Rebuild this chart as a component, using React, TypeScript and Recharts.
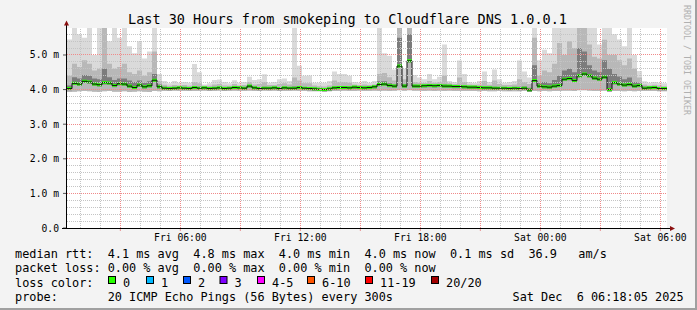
import React from "react";
import { ComposedChart, Area, Line, XAxis, YAxis, CartesianGrid, ReferenceLine } from "recharts";

const W = 697;
const H = 310;
const MONO = "'DejaVu Sans Mono', monospace";

// 15 minute buckets, minutes since Fri 00:00
const startMin = 20;
const stepMin = 15;
const endMin = 1820;

const medianMs = [
  4.03, 4.18, 4.16, 4.24, 4.22, 4.16, 4.14, 4.2, 4.19, 4.12,
  4.17, 4.16, 4.1, 4.06, 4.13, 4.08, 4.11, 4.27, 4.08, 4.04,
  4.03, 4.04, 4.05, 4.04, 4.03, 4.06, 4.04, 4.05, 4.03, 4.04,
  4.05, 4.03, 4.04, 4.06, 4.05, 4.04, 4.1, 4.05, 4.03, 4.04,
  4.04, 4.05, 4.03, 4.05, 4.04, 4.04, 4.06, 4.04, 4.03, 4.02,
  4.01, 4.0, 4.02, 4.05, 4.06, 4.06, 4.05, 4.07, 4.06, 4.05,
  4.06, 4.08, 4.15, 4.16, 4.12, 4.1, 4.68, 4.1, 4.83, 4.1,
  4.1, 4.11, 4.12, 4.11, 4.12, 4.1, 4.1, 4.09, 4.09, 4.08,
  4.07, 4.07, 4.06, 4.05, 4.05, 4.04, 4.04, 4.04, 4.03, 4.04,
  4.03, 4.04, 3.99, 4.26, 4.1, 4.08, 4.07, 4.1, 4.12, 4.3,
  4.32, 4.26, 4.4, 4.45, 4.4, 4.33, 4.3, 4.36, 4.0, 4.2,
  4.16, 4.13, 4.15, 4.1, 4.12, 4.04, 4.05, 4.06, 4.03, 4.03,
];

const minMs = [
  3.93, 3.94, 3.95, 3.96, 3.95, 3.94, 3.93, 3.95, 3.96, 3.94,
  3.94, 3.95, 3.93, 3.94, 3.95, 3.94, 3.93, 3.96, 3.95, 3.96,
  3.96, 3.97, 3.96, 3.96, 3.97, 3.96, 3.96, 3.97, 3.96, 3.96,
  3.97, 3.96, 3.96, 3.97, 3.96, 3.96, 3.97, 3.96, 3.96, 3.97,
  3.96, 3.97, 3.96, 3.96, 3.96, 3.97, 3.96, 3.96, 3.95, 3.95,
  3.95, 3.94, 3.95, 3.96, 3.96, 3.97, 3.96, 3.96, 3.97, 3.96,
  3.96, 3.97, 3.96, 3.97, 3.96, 3.97, 3.98, 3.97, 3.98, 3.97,
  3.97, 3.96, 3.97, 3.96, 3.97, 3.96, 3.97, 3.96, 3.96, 3.96,
  3.96, 3.96, 3.95, 3.96, 3.95, 3.95, 3.96, 3.95, 3.95, 3.95,
  3.95, 3.96, 3.93, 3.96, 3.95, 3.96, 3.95, 3.96, 3.96, 3.97,
  3.97, 3.96, 3.98, 3.98, 3.97, 3.96, 3.96, 3.97, 3.93, 3.96,
  3.96, 3.95, 3.96, 3.95, 3.96, 3.96, 3.96, 3.96, 3.95, 3.95,
];

// top of the dark smoke
const p75Ms = [
  4.12, 4.36, 4.32, 4.42, 4.4, 4.32, 4.3, 4.6, 4.36, 4.28,
  4.32, 4.32, 4.26, 4.22, 4.26, 4.2, 4.24, 4.45, 4.15, 4.08,
  4.06, 4.07, 4.08, 4.07, 4.06, 4.1, 4.08, 4.07, 4.06, 4.07,
  4.08, 4.06, 4.07, 4.09, 4.08, 4.07, 4.13, 4.08, 4.06, 4.08,
  4.07, 4.08, 4.06, 4.08, 4.07, 4.09, 4.1, 4.07, 4.06, 4.05,
  4.04, 4.03, 4.05, 4.09, 4.09, 4.09, 4.08, 4.1, 4.09, 4.08,
  4.1, 4.12, 4.24, 4.24, 4.18, 4.15, 5.5, 4.16, 5.6, 4.14,
  4.13, 4.14, 4.15, 4.14, 4.15, 4.15, 4.13, 4.12, 4.13, 4.11,
  4.1, 4.1, 4.09, 4.09, 4.08, 4.08, 4.07, 4.07, 4.06, 4.07,
  4.08, 4.09, 4.05, 4.7, 4.2, 4.22, 4.18, 4.28, 4.4, 4.55,
  4.6, 4.5, 5.2, 5.1, 4.7, 4.55, 4.5, 4.85, 4.6, 4.45,
  4.38, 4.3, 4.35, 4.22, 4.2, 4.09, 4.09, 4.1, 4.07, 4.07,
];

// top of the medium smoke
const p90Ms = [
  4.4, 4.75, 4.65, 4.85, 4.75, 4.55, 4.6, 5.78, 4.75, 4.6,
  4.65, 4.75, 4.5, 4.45, 4.55, 4.4, 4.5, 5.1, 4.25, 4.14,
  4.11, 4.13, 4.12, 4.13, 4.11, 4.22, 4.18, 4.11, 4.11, 4.15,
  4.16, 4.12, 4.11, 4.16, 4.12, 4.13, 4.22, 4.15, 4.16, 4.22,
  4.13, 4.13, 4.16, 4.18, 4.15, 4.35, 4.26, 4.18, 4.18, 4.12,
  4.1, 4.09, 4.12, 4.26, 4.22, 4.22, 4.2, 4.15, 4.13, 4.15,
  4.13, 4.15, 4.45, 4.48, 4.36, 4.26, 5.78, 4.3, 5.78, 4.22,
  4.2, 4.19, 4.25, 4.2, 4.22, 4.4, 4.18, 4.16, 4.35, 4.22,
  4.15, 4.14, 4.15, 4.25, 4.14, 4.26, 4.16, 4.13, 4.13, 4.15,
  4.3, 4.22, 4.16, 5.5, 4.4, 4.55, 4.5, 4.75, 5.35, 5.0,
  5.4, 5.2, 5.78, 5.78, 5.3, 4.95, 4.9, 5.44, 5.0, 5.0,
  4.85, 4.7, 4.9, 4.6, 4.35, 4.15, 4.12, 4.14, 4.12, 4.1,
];

const maxMs = [
  5.45, 5.78, 5.6, 5.5, 5.78, 5.0, 5.78, 5.78, 5.4, 5.78,
  5.5, 5.78, 5.25, 5.05, 5.4, 4.9, 5.1, 5.78, 4.45, 4.25,
  4.18, 4.25, 4.2, 4.22, 4.2, 4.74, 4.5, 4.15, 4.18, 4.28,
  4.29, 4.22, 4.18, 4.27, 4.2, 4.22, 4.37, 4.28, 4.3, 4.44,
  4.2, 4.22, 4.3, 4.32, 4.25, 5.78, 4.69, 4.4, 4.41, 4.2,
  4.2, 4.2, 4.25, 4.52, 4.45, 4.45, 4.4, 4.22, 4.2, 4.25,
  4.2, 4.25, 5.78, 5.05, 4.98, 4.58, 5.78, 4.6, 5.78, 4.42,
  4.35, 4.3, 4.45, 4.3, 4.37, 5.3, 4.25, 4.22, 4.84, 4.45,
  4.22, 4.2, 4.25, 4.52, 4.22, 4.58, 4.3, 4.2, 4.22, 4.25,
  4.84, 4.52, 4.35, 5.78, 4.85, 5.15, 5.05, 5.78, 5.78, 5.78,
  5.78, 5.78, 5.78, 5.78, 5.78, 5.78, 5.3, 5.78, 5.78, 5.6,
  5.45, 5.25, 5.78, 5.0, 4.54, 4.24, 4.2, 4.22, 4.2, 4.18,
];

const xTicks = [180, 360, 540, 720, 900, 1080, 1260, 1440, 1620, 1800];
const xTickLabels: Record<number, string> = {
  360: "Fri 06:00",
  720: "Fri 12:00",
  1080: "Fri 18:00",
  1440: "Sat 00:00",
  1800: "Sat 06:00",
};
const yTicks = [0, 1, 2, 3, 4, 5];
const yTickLabels = ["0.0", "1.0 m", "2.0 m", "3.0 m", "4.0 m", "5.0 m"];

const lossLabels = ["0", "1", "2", "3", "4-5", "6-10", "11-19", "20/20"];
const lossColors = ["#26ff00", "#00b8ff", "#0059ff", "#7e00ff", "#ff00ff", "#ff5500", "#ff0000", "#a10000"];
const lossSwatchX = [108, 146, 183, 219.5, 257, 307, 365, 431];

const statLines = [
  "median rtt:  4.1 ms avg  4.8 ms max  4.0 ms min  4.0 ms now  0.1 ms sd  36.9   am/s",
  "packet loss: 0.00 % avg  0.00 % max  0.00 % min  0.00 % now",
  "loss color:",
  "probe:       20 ICMP Echo Pings (56 Bytes) every 300s",
];
const stamp = "Sat Dec  6 06:18:05 2025";

const rows = medianMs.map((m, i) => ({
  t: startMin + i * stepMin,
  light: [minMs[i], maxMs[i]],
  mid: [minMs[i], p90Ms[i]],
  dark: [Math.max(minMs[i], m - 0.05), p75Ms[i]],
  band: [m - 0.04, m + 0.045],
  med: m,
}));
// stepAfter needs a closing point for the last bucket
const last = rows[rows.length - 1];
const data = [...rows, { ...last, t: endMin }];

const minorY = Array.from({ length: 29 }, (_, i) => ((i + 1) * 2) / 10).filter((v) => v % 1 !== 0 && v < 5.78);
const majorY = [1, 2, 3, 4, 5];
const hours = Array.from({ length: 30 }, (_, i) => (i + 1) * 60);
const minorX = hours.filter((t) => t % 180 !== 0);
const majorX = hours.filter((t) => t % 180 === 0);

const gridLine = (color: string) => (p: any) => {
  const vertical = Math.abs(p.x1 - p.x2) < 0.01;
  const x1 = vertical ? Math.floor(p.x1) + 0.5 : p.x1;
  const x2 = vertical ? Math.floor(p.x2) + 0.5 : p.x2;
  const y1 = vertical ? p.y1 : Math.floor(p.y1) + 0.5;
  const y2 = vertical ? p.y2 : Math.floor(p.y2) + 0.5;
  return <line x1={x1} y1={y1} x2={x2} y2={y2} stroke={color} strokeWidth={1} strokeDasharray="1 1" />;
};

function XTick(props: any) {
  const { x, y, payload } = props;
  const label = xTickLabels[payload.value];
  if (!label) return null;
  return (
    <text x={x} y={y + 8} textAnchor="middle" fontFamily={MONO} fontSize={9.7} fill="#000">
      {label}
    </text>
  );
}

function YTick(props: any) {
  const { x, y, payload } = props;
  const label = yTickLabels[yTicks.indexOf(payload.value)];
  return (
    <text x={x - 2} y={y + 3.5} textAnchor="end" fontFamily={MONO} fontSize={9.7} fill="#000">
      {label}
    </text>
  );
}

export default function App() {
  return (
    <div style={{ position: "absolute", left: 0, top: 0, width: W, height: H, background: "#f3f3f3", overflow: "hidden" }}>
      <ComposedChart width={W} height={H} data={data} margin={{ top: 28, right: 30, bottom: 0, left: 0 }}>
        <CartesianGrid horizontal={false} vertical={false} fill="#ffffff" />
        <XAxis
          dataKey="t"
          type="number"
          domain={[startMin, endMin]}
          ticks={xTicks}
          interval={0}
          height={82}
          allowDataOverflow
          axisLine={false}
          tickSize={3}
          tickLine={{ stroke: "#e89090" }}
          tick={<XTick />}
        />
        <YAxis
          type="number"
          domain={[0, 5.78]}
          ticks={yTicks}
          interval={0}
          width={67}
          allowDataOverflow
          axisLine={false}
          tickSize={4}
          tickLine={{ stroke: "#555" }}
          tick={<YTick />}
        />
        <Area dataKey="light" type="stepAfter" fill="#dadada" fillOpacity={1} stroke="none" isAnimationActive={false} dot={false} activeDot={false} />
        <Area dataKey="mid" type="stepAfter" fill="#b8b8b8" fillOpacity={1} stroke="none" isAnimationActive={false} dot={false} activeDot={false} />
        <Area dataKey="dark" type="stepAfter" fill="#7c7c7c" fillOpacity={1} stroke="none" isAnimationActive={false} dot={false} activeDot={false} />
        <Line dataKey="med" type="stepAfter" stroke="#111" strokeWidth={1} dot={false} activeDot={false} isAnimationActive={false} />
        <Area dataKey="band" type="stepAfter" fill="#26ff00" fillOpacity={1} stroke="none" isAnimationActive={false} dot={false} activeDot={false} />
        {minorY.map((v) => (
          <ReferenceLine key={"hy" + v} y={v} shape={gridLine("#c4c4c4")} />
        ))}
        {majorY.map((v) => (
          <ReferenceLine key={"my" + v} y={v} shape={gridLine("#f08a8a")} />
        ))}
        {minorX.map((v) => (
          <ReferenceLine key={"hx" + v} x={v} shape={gridLine("#c4c4c4")} />
        ))}
        {majorX.map((v) => (
          <ReferenceLine key={"mx" + v} x={v} shape={gridLine("#f08a8a")} />
        ))}
      </ComposedChart>

      <svg width={W} height={H} style={{ position: "absolute", left: 0, top: 0, pointerEvents: "none" }}>
        <text x={347.5} y={24} textAnchor="middle" fontFamily={MONO} fontSize={13.5} fill="#000">
          Last 30 Hours from smokeping to Cloudflare DNS 1.0.0.1
        </text>
        <text
          x={683.5}
          y={5}
          transform="rotate(90 683.5 5)"
          fontFamily={MONO}
          fontSize={8.3}
          fill="#b0b0b0"
        >
          RRDTOOL / TOBI OETIKER
        </text>

        {/* axes with arrow heads */}
        <line x1={66.5} y1={228} x2={66.5} y2={23} stroke="#000" strokeWidth={1} />
        <polygon points="64,25.5 69,25.5 66.5,20.5" fill="#8b1010" />
        <line x1={62} y1={228.5} x2={671} y2={228.5} stroke="#000" strokeWidth={1} />
        <polygon points="670,226 670,231 675,228.5" fill="#8b1010" />

        {statLines.map((s, i) => (
          <text key={i} x={15} y={257.5 + i * 14.5} fontFamily={MONO} fontSize={11.85} fill="#000" style={{ whiteSpace: "pre" }}>
            {s}
          </text>
        ))}
        {lossLabels.map((l, i) => (
          <g key={l}>
            <rect x={lossSwatchX[i] + 0.5} y={276.5} width={7} height={7} fill={lossColors[i]} stroke="#000" strokeWidth={1} />
            <text x={lossSwatchX[i] + 15} y={286.5} fontFamily={MONO} fontSize={11.85} fill="#000">
              {l}
            </text>
          </g>
        ))}
        <text x={512.5} y={301} fontFamily={MONO} fontSize={11.85} fill="#000" style={{ whiteSpace: "pre" }}>
          {stamp}
        </text>

        <rect x={0} y={308} width={W} height={2} fill="#a0a0a0" />
        <rect x={695} y={0} width={2} height={H} fill="#a0a0a0" />
      </svg>
    </div>
  );
}
